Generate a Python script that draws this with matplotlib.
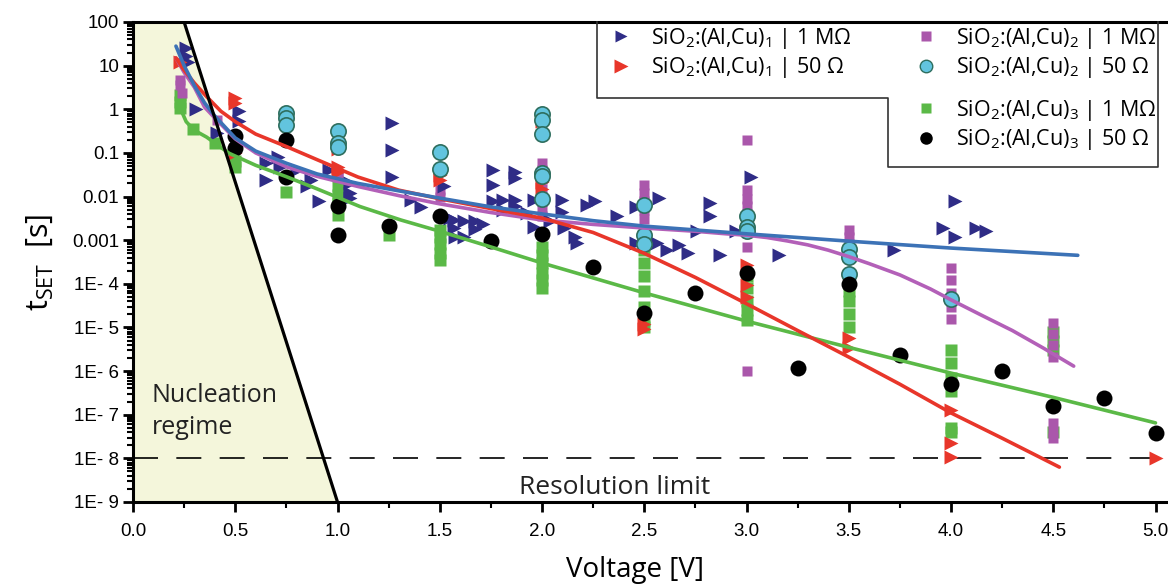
import numpy as np
import matplotlib.pyplot as plt
from matplotlib.lines import Line2D

plt.rcParams['font.family'] = ['Open Sans', 'DejaVu Sans']
plt.rcParams['mathtext.default'] = 'regular'

# --- données (tension en V, t_SET en s) ---
# SiO2:(Al,Cu)1 | 1 MOhm
v_a1_1M = [0.26, 0.26, 0.27, 0.31, 0.41, 0.52, 0.52, 0.65, 0.65, 0.71, 0.72, 0.80,
           0.85, 0.87, 0.91, 0.96, 1.06, 1.06, 1.06, 1.265, 1.265, 1.265, 1.36, 1.41,
           1.52, 1.55, 1.57, 1.57, 1.575, 1.62, 1.62, 1.67, 1.67, 1.71, 1.76, 1.76,
           1.76, 1.81, 1.81, 1.87, 1.87, 1.87, 1.87, 1.925, 1.96, 1.96, 2.04, 2.10,
           2.10, 2.11, 2.16, 2.17, 2.22, 2.26, 2.365, 2.46, 2.46, 2.56, 2.57, 2.61,
           2.67, 2.715, 2.76, 2.82, 2.82, 2.87, 2.95, 3.02, 3.16, 3.72, 3.96, 4.02,
           4.02, 4.12, 4.17]
t_a1_1M = [25, 17, 12, 1.0, 0.28, 0.9, 0.55, 0.058, 0.024, 0.08, 0.047, 0.04,
           0.017, 0.024, 0.0077, 0.04, 0.02, 0.012, 0.0095, 0.48, 0.117, 0.028, 0.0084, 0.0059,
           0.017, 0.0032, 0.0029, 0.0019, 0.0012, 0.0027, 0.0012, 0.0027, 0.0018, 0.0024, 0.04, 0.018,
           0.0077, 0.0084, 0.005, 0.037, 0.026, 0.0084, 0.006, 0.0042, 0.0084, 0.002, 0.0027, 0.0084,
           0.0045, 0.0019, 0.0012, 0.00085, 0.0065, 0.0077, 0.0035, 0.0059, 0.00085, 0.00085, 0.0092, 0.0006,
           0.00077, 0.0005, 0.0016, 0.007, 0.0035, 0.00046, 0.0016, 0.028, 0.00046, 0.0006, 0.0019, 0.0077,
           0.0012, 0.0019, 0.0016]

# SiO2:(Al,Cu)1 | 50 Ohm
v_a1_50 = [0.23, 0.5, 0.5, 0.5, 1.0, 1.0, 1.0, 1.5, 1.5, 2.0, 2.0, 2.0, 2.5, 2.5,
           3.0, 3.0, 3.0, 3.5, 3.5, 4.0, 4.0, 4.0, 5.0]
t_a1_50 = [12, 1.8, 1.4, 0.1, 0.12, 0.048, 0.037, 0.031, 0.024, 0.55, 0.022, 0.015, 1.2e-5, 9e-6,
           2.7e-4, 9.3e-5, 5e-5, 5.6e-6, 3.3e-6, 1.3e-7, 2.2e-8, 1.1e-8, 1e-8]

# SiO2:(Al,Cu)2 | 1 MOhm
v_a2_1M = [0.23, 0.23, 0.24, 0.41, 1.0, 1.0, 1.5, 1.5,
           2.0, 2.0, 2.0, 2.0, 2.0, 2.0, 2.0,
           2.5, 2.5, 2.5, 2.5, 2.5, 2.5,
           3.0, 3.0, 3.0, 3.0, 3.0, 3.0, 3.0, 3.0, 3.0,
           3.5, 3.5, 3.5, 4.0, 4.0, 4.0, 4.0, 4.0,
           4.5, 4.5, 4.5, 4.5, 4.5, 4.5, 4.5]
t_a2_1M = [4.7, 3.6, 2.3, 0.57, 0.028, 0.033, 0.014, 0.01,
           0.06, 0.04, 0.025, 0.015, 0.008, 0.005, 0.0035,
           0.018, 0.012, 0.008, 0.005, 0.003, 0.0017,
           0.2, 0.014, 0.009, 0.006, 0.004, 0.0025, 0.0017, 6.8e-4, 1e-6,
           0.0017, 0.0012, 8e-4, 2.3e-4, 1.2e-4, 6e-5, 3e-5, 1.6e-5,
           1.25e-5, 7e-6, 4e-6, 2.1e-6, 6.5e-8, 4e-8, 3e-8]

# SiO2:(Al,Cu)2 | 50 Ohm
v_a2_50 = [0.75, 0.75, 0.75, 1.0, 1.0, 1.0, 1.5, 1.5, 2.0, 2.0, 2.0, 2.0, 2.0, 2.0,
           2.5, 2.5, 2.5, 3.0, 3.0, 3.0, 3.5, 3.5, 3.5, 4.0]
t_a2_50 = [0.81, 0.62, 0.44, 0.31, 0.165, 0.135, 0.107, 0.043, 0.78, 0.57, 0.27, 0.035, 0.03, 0.0087,
           0.0065, 0.0013, 8e-4, 0.0035, 0.002, 0.0016, 6.2e-4, 4.1e-4, 1.7e-4, 4.5e-5]

# SiO2:(Al,Cu)3 | 1 MOhm
v_a3_1M = [0.23, 0.23, 0.23, 0.295, 0.40, 0.5, 0.5, 0.75, 1.0, 1.0, 1.0, 1.0, 1.25,
           1.5, 1.5, 1.5, 1.5, 1.5, 2.0, 2.0, 2.0, 2.0, 2.0, 2.0,
           2.5, 2.5, 2.5, 2.5, 2.5, 2.5, 2.5, 3.0, 3.0, 3.0, 3.0, 3.0,
           3.5, 3.5, 3.5, 3.5, 4.0, 4.0, 4.0, 4.0, 4.0, 4.0, 4.5, 4.5, 4.5, 4.5]
t_a3_1M = [2.1, 1.5, 1.05, 0.36, 0.166, 0.065, 0.048, 0.013, 0.017, 0.011, 0.007, 0.0038, 0.0013,
           0.0017, 0.0012, 8e-4, 5e-4, 3.5e-4, 7e-4, 4.5e-4, 3e-4, 1.8e-4, 1.2e-4, 8e-5,
           6e-4, 3e-4, 1.5e-4, 7e-5, 3e-5, 1.5e-5, 1e-5, 1.5e-4, 8e-5, 4e-5, 2.5e-5, 1.5e-5,
           7e-5, 4e-5, 2e-5, 1e-5, 3e-6, 1.5e-6, 7e-7, 3.5e-7, 5e-8, 4e-8, 8e-6, 5e-6, 3e-6, 4e-8]

# SiO2:(Al,Cu)3 | 50 Ohm
v_a3_50 = [0.5, 0.5, 0.75, 0.75, 1.0, 1.0, 1.25, 1.5, 1.75, 2.0, 2.25, 2.5, 2.75, 3.0,
           3.25, 3.5, 3.75, 4.0, 4.25, 4.5, 4.75, 5.0]
t_a3_50 = [0.25, 0.13, 0.2, 0.028, 0.006, 0.0013, 0.0021, 0.0035, 0.00096, 0.0014, 2.4e-4, 2.1e-5,
           6.3e-5, 1.8e-4, 1.15e-6, 1e-4, 2.3e-6, 5e-7, 9.8e-7, 1.6e-7, 2.4e-7, 3.9e-8]

# courbes d'ajustement (points relevés le long des lignes)
v_fit_blue = [0.21, 0.25, 0.3, 0.35, 0.4, 0.5, 0.6, 0.75, 0.9, 1.1, 1.3, 1.5, 1.75, 2.0,
              2.25, 2.5, 3.0, 3.5, 4.0, 4.62]
t_fit_blue = [28, 10, 3.5, 1.4, 0.7, 0.22, 0.11, 0.058, 0.033, 0.02, 0.0135, 0.0092, 0.0058, 0.0040,
              0.0028, 0.0021, 0.0014, 0.00095, 0.00066, 0.00045]
v_fit_red = [0.21, 0.25, 0.3, 0.36, 0.43, 0.5, 0.6, 0.75, 0.9, 1.1, 1.3, 1.5, 1.75, 2.0,
             2.25, 2.5, 2.75, 3.0, 3.25, 3.5, 3.75, 4.0, 4.25, 4.53]
t_fit_red = [15, 7.9, 4.0, 1.95, 0.9, 0.52, 0.27, 0.14, 0.07, 0.028, 0.014, 0.0089, 0.0053, 0.0032,
             0.0015, 5.0e-4, 1.4e-4, 3.5e-5, 8.5e-6, 2.1e-6, 5.0e-7, 1.1e-7, 2.9e-8, 6.3e-9]
v_fit_mag = [0.21, 0.25, 0.3, 0.35, 0.4, 0.5, 0.6, 0.75, 0.9, 1.1, 1.3, 1.5, 1.75, 2.0,
             2.25, 2.5, 2.75, 2.9, 3.0, 3.1, 3.2, 3.3, 3.4, 3.5, 3.6, 3.75, 3.9, 4.0, 4.15, 4.3, 4.45, 4.6]
t_fit_mag = [15, 7.0, 3.2, 1.12, 0.63, 0.21, 0.1, 0.048, 0.029, 0.017, 0.0105, 0.0068, 0.0043, 0.0029,
             0.0023, 0.0019, 0.0016, 0.0014, 0.0013, 0.00115, 9.6e-4, 7.8e-4, 5.9e-4, 4.2e-4, 2.9e-4,
             1.6e-4, 7.6e-5, 4.3e-5, 1.9e-5, 8.5e-6, 3.4e-6, 1.3e-6]
v_fit_green = [0.23, 0.24, 0.26, 0.3, 0.36, 0.47, 0.6, 0.75, 0.9, 1.11, 1.31, 1.5, 1.75, 2.0,
               2.5, 3.0, 3.5, 4.0, 4.5, 5.0]
t_fit_green = [1.0, 0.85, 0.52, 0.33, 0.23, 0.098, 0.052, 0.0285, 0.015, 0.0059, 0.0029, 0.0016, 7.0e-4, 3.0e-4,
               6.2e-5, 1.4e-5, 3.5e-6, 9.0e-7, 2.5e-7, 6.5e-8]

# régime de nucléation et limite de résolution
v_nucl = [0.25, 1.0]
t_nucl = [100, 1e-9]
t_resolution = 1e-8

ytick_vals = [1e2, 1e1, 1, 1e-1, 1e-2, 1e-3, 1e-4, 1e-5, 1e-6, 1e-7, 1e-8, 1e-9]
ytick_labs = ['100', '10', '1', '0.1', '0.01', '0.001', '1E- 4', '1E- 5', '1E- 6', '1E- 7', '1E- 8', '1E- 9']
xtick_vals = [0.0, 0.5, 1.0, 1.5, 2.0, 2.5, 3.0, 3.5, 4.0, 4.5, 5.0]

labels = [r'SiO$_2$:(Al,Cu)$_1$ | 1 M$\Omega$', r'SiO$_2$:(Al,Cu)$_1$ | 50 $\Omega$',
          r'SiO$_2$:(Al,Cu)$_2$ | 1 M$\Omega$', r'SiO$_2$:(Al,Cu)$_2$ | 50 $\Omega$',
          r'SiO$_2$:(Al,Cu)$_3$ | 1 M$\Omega$', r'SiO$_2$:(Al,Cu)$_3$ | 50 $\Omega$']

c_navy, c_red, c_mag, c_cyan, c_green = '#2f2c86', '#e8362a', '#aa57ab', '#62c4de', '#5bb947'
c_lblue, c_lmag = '#3c72b6', '#b360b8'

W, H = 1168, 585
fig = plt.figure(figsize=(W / 100, H / 100), dpi=100)
ax = fig.add_axes([133 / W, 83 / H, 5.1 * 204.5 / W, 480 / H])
ax.set_yscale('log')
ax.set_xlim(0, 5.1)
ax.set_ylim(1e-9, 100)

# zone de nucléation
ax.fill_betweenx([1e-9, 100], 0, np.interp(np.log10([1e-9, 100]), np.log10(t_nucl[::-1]), v_nucl[::-1]),
                 color='#f4f6db', zorder=0, lw=0)
ax.plot(v_nucl, t_nucl, color='black', lw=2.3, zorder=5, clip_on=False, solid_capstyle='butt')
ax.axhline(t_resolution, color='black', lw=1.2, dashes=(15, 11), zorder=1)

ms_kw = dict(ls='none', zorder=3)
ax.plot(v_a3_1M, t_a3_1M, marker='s', ms=9, color=c_green, mec='none', **ms_kw)
ax.plot(v_a2_1M, t_a2_1M, marker='s', ms=6.5, color=c_mag, mec='none', **ms_kw)
ax.plot(v_a1_1M, t_a1_1M, marker='>', ms=10, color=c_navy, mec='none', **ms_kw)
ax.plot(v_a1_50, t_a1_50, marker='>', ms=10, color=c_red, mec='none', **ms_kw)
ax.plot(v_a2_50, t_a2_50, marker='o', ms=11, color=c_cyan, mec='#2e6e5e', mew=1.2, ls='none', zorder=3.5)
ax.plot(v_a3_50, t_a3_50, marker='o', ms=11.5, color='black', mec='none', ls='none', zorder=3.6)

for v, t, c in [(v_fit_green, t_fit_green, c_green), (v_fit_mag, t_fit_mag, c_lmag),
                (v_fit_red, t_fit_red, c_red), (v_fit_blue, t_fit_blue, c_lblue)]:
    ax.plot(v, t, color=c, lw=2.6, zorder=4, solid_capstyle='round', solid_joinstyle='round')

ax.text(0.09, 1.2e-7, 'Nucleation\nregime', fontsize=18, color='#222222', va='center', linespacing=1.35)
ax.text(2.357, 2.1e-9, 'Resolution limit', fontsize=19, color='#222222', ha='center', va='center')

# axes
for s in ['left', 'bottom', 'top']:
    ax.spines[s].set_linewidth(2.2)
ax.spines['right'].set_visible(False)
ax.set_yticks(ytick_vals)
ax.set_yticklabels(ytick_labs)
ax.yaxis.set_minor_locator(plt.matplotlib.ticker.LogLocator(base=10, subs=np.arange(2, 10), numticks=20))
ax.yaxis.set_minor_formatter(plt.NullFormatter())
ax.set_xticks(xtick_vals)
ax.set_xticklabels([f'{v:.1f}' for v in xtick_vals])
ax.set_xticks(np.arange(0.25, 5.1, 0.5), minor=True)
ax.tick_params(which='major', direction='out', length=7, width=2.0, labelsize=13.5, pad=3)
ax.tick_params(which='minor', direction='out', length=4, width=1.5)
ax.tick_params(axis='x', which='major', pad=8)
for lab in ax.get_xticklabels() + ax.get_yticklabels():
    lab.set_fontfamily('Liberation Sans')

ax.set_xlabel('Voltage [V]', fontsize=20, labelpad=12, x=(635 - 133) / (5.1 * 204.5))
ax.set_ylabel(r't$_{SET}$  [s]', fontsize=22, labelpad=12)

# légende en trois blocs avec contour en L
def hnd(marker, color, ms, mec='none'):
    return Line2D([], [], ls='none', marker=marker, color=color, ms=ms, mec=mec)

leg_kw = dict(frameon=False, fontsize=15.5, borderpad=0, borderaxespad=0, handlelength=1.0,
              handletextpad=0.9, labelspacing=0.2, loc='upper left', bbox_transform=fig.transFigure)
h1 = [hnd('>', c_navy, 9), hnd('>', c_red, 10)]
h2 = [hnd('s', c_mag, 7), hnd('o', c_cyan, 9, '#2e6e5e')]
h3 = [hnd('s', c_green, 7), hnd('o', 'black', 9)]
fig.legend(h1, labels[0:2], bbox_to_anchor=(610 / W, 1 - 26 / H), **leg_kw)
fig.legend(h2, labels[2:4], bbox_to_anchor=(915 / W, 1 - 26 / H), **leg_kw)
fig.legend(h3, labels[4:6], bbox_to_anchor=(915 / W, 1 - 98 / H), **leg_kw)
px = [597, 597, 888, 888, 1158, 1158]
py = [22, 98, 98, 167, 167, 22]
fig.add_artist(Line2D([x / W for x in px], [1 - y / H for y in py], color='#333333', lw=1.2))

fig.savefig('out.png', dpi=100)
